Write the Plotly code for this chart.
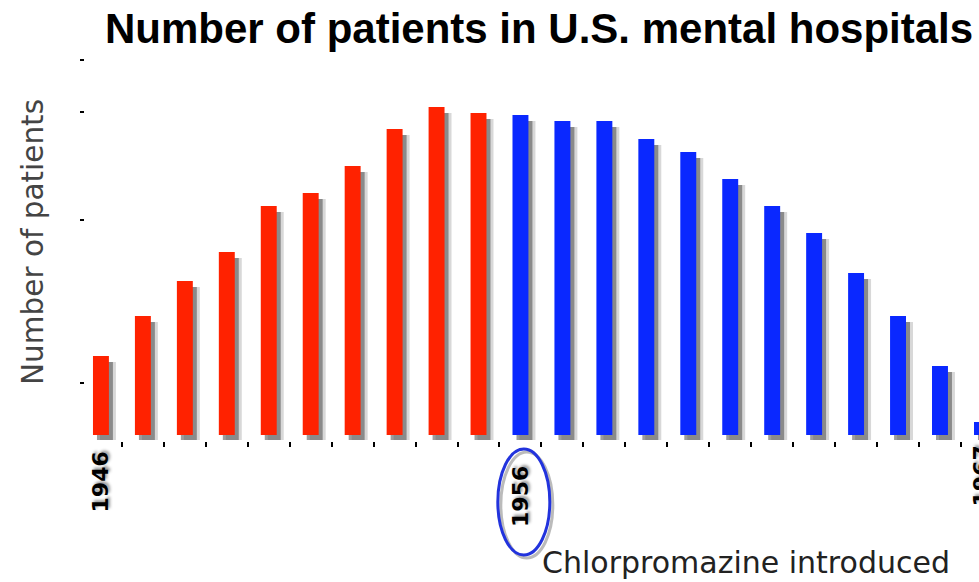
import plotly.graph_objects as go

# years shown on the chart (the last one is cut off at the right edge)
years = [1946, 1947, 1948, 1949, 1950, 1951, 1952, 1953, 1954, 1955, 1956,
         1957, 1958, 1959, 1960, 1961, 1962, 1963, 1964, 1965, 1966, 1967]
# relative number of patients (no scale given in the original)
patients = [79, 119, 154, 183, 229, 242, 269, 306, 328, 322, 320,
            314, 314, 296, 283, 256, 229, 202, 162, 119, 69, 13]
intro_year = 1956
label_years = [1946, 1956, 1967]
ytick_vals = [52, 215, 323, 375]

RED = '#FF2200'
BLUE = '#0A28FF'

x_range = [1945.62, 1966.93]
bar_w = 0.38
px_unit = 894 / (x_range[1] - x_range[0])

before = [(y, v) for y, v in zip(years, patients) if y < intro_year]
after = [(y, v) for y, v in zip(years, patients) if y >= intro_year]

fig = go.Figure()

# soft drop shadows behind the bars
for dx, alpha in [(7, 0.2), (4, 0.5)]:
    fig.add_trace(go.Bar(
        x=years, y=[v - 1 for v in patients], base=-5,
        width=bar_w, offset=-bar_w / 2 + dx / px_unit,
        marker=dict(color=f'rgba(60,60,60,{alpha})', line=dict(width=0)),
        hoverinfo='skip', showlegend=False
    ))

for part, col in [(before, RED), (after, BLUE)]:
    fig.add_trace(go.Bar(
        x=[p[0] for p in part], y=[p[1] for p in part],
        width=bar_w, marker=dict(color=col, line=dict(width=0)),
        showlegend=False
    ))

label_font = dict(family='DejaVu Sans', size=22, color='black', weight='bold',
                  shadow='2px 2px 3px #999')
label_tops = {1946: 8, 1956: 23, 1967: 2}
for yr in label_years:
    if yr <= x_range[1]:
        pos = dict(x=yr, xref='x')
    else:
        pos = dict(x=(yr - x_range[0]) / (x_range[1] - x_range[0]), xref='paper')
    fig.add_annotation(text=str(yr), textangle=-90, yref='paper', y=0,
                       yanchor='top', xanchor='center', yshift=-label_tops[yr],
                       showarrow=False, font=label_font, **pos)

# circle around 1956
for dx, col, w in [(3, 'rgba(120,120,120,0.5)', 3), (0, '#2233DD', 3)]:
    fig.add_shape(type='circle', xref='x', yref='paper',
                  xsizemode='pixel', ysizemode='pixel',
                  xanchor=intro_year + 0.08, yanchor=0,
                  x0=-26 + dx, x1=26 + dx, y0=-8 - dx, y1=-114 - dx,
                  line=dict(color=col, width=w))

fig.add_annotation(text='Chlorpromazine introduced', xref='paper', yref='paper',
                   x=(540 - 85) / 894, y=-0.312, xanchor='left', yanchor='middle',
                   showarrow=False, font=dict(family='DejaVu Sans', size=30, color='#222'))

fig.add_annotation(text='Number of patients', xref='paper', yref='paper',
                   x=(33 - 85) / 894, y=0.509, textangle=-90,
                   xanchor='center', yanchor='middle', showarrow=False,
                   font=dict(family='DejaVu Sans', size=29.5, color='#444'))

fig.update_layout(
    title=dict(text='Number of patients in U.S. mental hospitals',
               x=105 / 979, xanchor='left', xref='container',
               y=1 - 14 / 582, yanchor='top', yref='container',
               font=dict(family='Liberation Sans', size=42, color='black', weight='bold')),
    width=979, height=582,
    margin=dict(l=85, r=0, t=50, b=141),
    barmode='overlay',
    plot_bgcolor='white', paper_bgcolor='white',
    xaxis=dict(range=x_range, tickvals=[y + 0.5 for y in years[:-1]],
               showticklabels=False, ticks='outside', ticklen=5, tickwidth=2,
               tickcolor='black', showgrid=False, zeroline=False, showline=False),
    yaxis=dict(range=[-6, 385], tickvals=ytick_vals, showticklabels=False,
               ticks='outside', ticklen=4, tickwidth=2, tickcolor='black',
               showgrid=False, zeroline=False, showline=False),
)

# drop the default page margin so the figure starts at the window corner
fig.write_html('out.html', config={'displayModeBar': False},
               post_script="document.body.style.margin='0px';")
